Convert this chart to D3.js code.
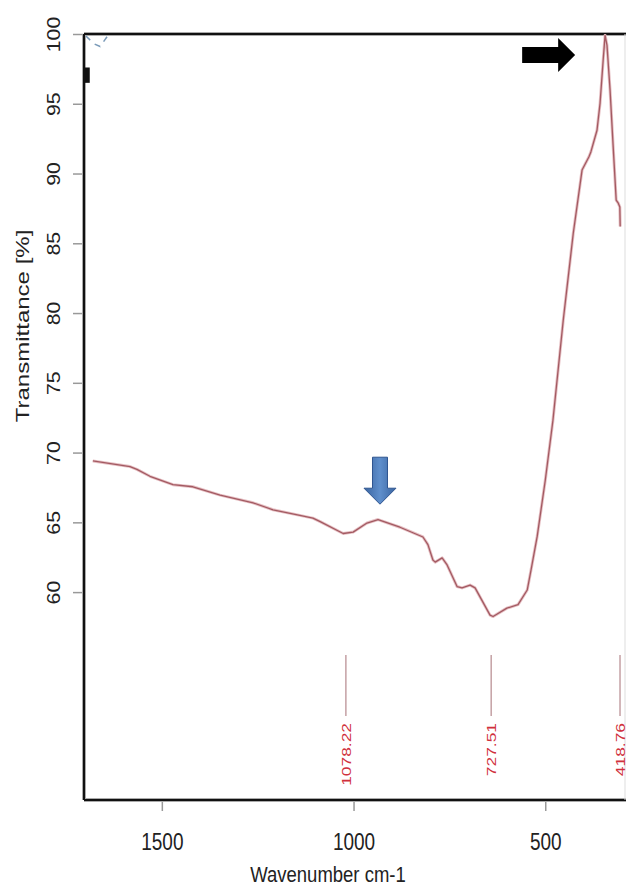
<!DOCTYPE html>
<html>
<head>
<meta charset="utf-8">
<script src="https://cdn.jsdelivr.net/npm/d3@7"></script>
<style>
  body { margin: 0; background: #fff; }
  svg { display: block; font-family: "Liberation Sans", Arial, sans-serif; }
</style>
</head>
<body>
<div id="chart"></div>
<script>
// spectrum (cm-1, %T)
const wavenumber = [1680, 1583, 1565, 1531, 1471, 1419, 1348, 1262, 1210, 1140, 1106, 1087,
    1027, 1001, 965, 936, 879, 819, 806, 793, 787, 769, 756, 730, 717, 696, 683, 644, 636,
    600, 571, 547, 537, 521, 500, 480, 453, 427, 404, 386, 381, 365, 357, 349, 344, 339,
    331, 323, 315, 310, 305.5, 304.5];
const transmittance = [69.4, 69.0, 68.8, 68.3, 67.7, 67.55, 66.95, 66.4, 65.9, 65.5, 65.3, 65.05,
    64.2, 64.3, 64.95, 65.2, 64.65, 63.95, 63.4, 62.3, 62.15, 62.45, 61.95, 60.4, 60.3, 60.5, 60.3, 58.35, 58.25,
    58.85, 59.1, 60.15, 61.6, 64.0, 68.0, 72.3, 79.5, 85.7, 90.25, 91.2, 91.55, 93.1, 95.05, 98.1, 99.9, 99.2,
    96.0, 92.0, 88.1, 87.9, 87.6, 86.2];

// little dashed trace in the top left corner
const dashWavenumber = [1698, 1677, 1661, 1643];
const dashTransmittance = [99.86, 99.3, 99.1, 99.8];

// peak picks: where the marker sits on the axis, and its printed label
const peakPositions = [1020, 641, 305];
const peakLabels = ["1078.22", "727.51", "418.76"];

const xTicks = [1500, 1000, 500];
const yTicks = [60, 65, 70, 75, 80, 85, 90, 95, 100];

const width = 626, height = 888;
const margin = { top: 34, right: 1, bottom: 88, left: 84 };

const svg = d3.select("#chart").append("svg")
    .attr("width", width)
    .attr("height", height);

const x = d3.scaleLinear().domain([1703, 292]).range([margin.left, width - margin.right]);
const y = d3.scaleLinear().domain([45.1, 100]).range([height - margin.bottom, margin.top]);

const bottom = height - margin.bottom;

// axes
const yAxis = svg.append("g")
    .attr("transform", "translate(" + margin.left + ",0)")
    .call(d3.axisLeft(y).tickValues(yTicks).tickSize(11).tickFormat(d => d));
yAxis.select(".domain").remove();
yAxis.selectAll("line").attr("stroke", "#999").attr("stroke-width", 1.5);
yAxis.selectAll("text")
    .attr("x", null).attr("dy", null)
    .attr("text-anchor", "middle")
    .attr("transform", "translate(-24,0) rotate(-90) scale(1.18,1)")
    .attr("fill", "#222")
    .style("font-size", "18px");

const xAxis = svg.append("g")
    .attr("transform", "translate(0," + bottom + ")")
    .call(d3.axisBottom(x).tickValues(xTicks).tickSize(11).tickFormat(d => d));
xAxis.select(".domain").remove();
xAxis.selectAll("line").attr("stroke", "#999").attr("stroke-width", 1.5);
xAxis.selectAll("text")
    .attr("y", null).attr("dy", null)
    .attr("transform", "translate(0,50) scale(1,1.25)")
    .attr("fill", "#222")
    .style("font-size", "19px");

// titles
svg.append("text")
    .attr("transform", "translate(328,882) scale(1,1.2)")
    .attr("text-anchor", "middle")
    .attr("fill", "#222")
    .style("font-size", "18.5px")
    .text("Wavenumber cm-1");

svg.append("text")
    .attr("transform", "translate(29,326) rotate(-90) scale(1.3,1)")
    .attr("text-anchor", "middle")
    .attr("fill", "#222")
    .style("font-size", "18.5px")
    .text("Transmittance [%]");

// frame
const frame = [
    [margin.left, margin.top, width, margin.top],
    [margin.left, margin.top, margin.left, bottom],
    [margin.left, bottom, width, bottom]
];
svg.selectAll("line.halo").data(frame).enter().append("line")
    .attr("class", "halo")
    .attr("x1", d => d[0]).attr("y1", d => d[1]).attr("x2", d => d[2]).attr("y2", d => d[3])
    .attr("stroke", "#aaa").attr("stroke-width", 4);
svg.selectAll("line.frame").data(frame).enter().append("line")
    .attr("class", "frame")
    .attr("x1", d => d[0]).attr("y1", d => d[1]).attr("x2", d => d[2]).attr("y2", d => d[3])
    .attr("stroke", "#111").attr("stroke-width", 2);
svg.append("line")
    .attr("x1", width - 1).attr("x2", width - 1)
    .attr("y1", margin.top).attr("y2", bottom)
    .attr("stroke", "#ddd").attr("stroke-width", 1);

// small legend mark on the left axis
svg.append("rect")
    .attr("x", x(1703)).attr("y", y(97.6))
    .attr("width", x(1688) - x(1703)).attr("height", y(96.5) - y(97.6))
    .attr("fill", "#111");

// dashed trace
svg.append("path")
    .datum(dashWavenumber.map((w, i) => [w, dashTransmittance[i]]))
    .attr("fill", "none")
    .attr("stroke", "#7a9ab8")
    .attr("stroke-width", 1.5)
    .attr("stroke-dasharray", "6,6")
    .attr("d", d3.line().x(d => x(d[0])).y(d => y(d[1])));

// spectrum
const line = d3.line().x(d => x(d[0])).y(d => y(d[1]));
const spectrum = wavenumber.map((w, i) => [w, transmittance[i]]);
svg.append("path")
    .datum(spectrum)
    .attr("fill", "none")
    .attr("stroke", "#e6c0c4")
    .attr("stroke-width", 3)
    .attr("stroke-linejoin", "round")
    .attr("d", line);
svg.append("path")
    .datum(spectrum)
    .attr("fill", "none")
    .attr("stroke", "#a35a62")
    .attr("stroke-width", 1.3)
    .attr("stroke-linejoin", "round")
    .attr("d", line);

// peak markers
const peaks = svg.selectAll("g.peak")
    .data(peakPositions)
    .enter().append("g")
    .attr("class", "peak")
    .attr("transform", d => "translate(" + x(d) + ",0)");
peaks.append("line")
    .attr("y1", 655).attr("y2", 716)
    .attr("stroke", "#c4a0a4")
    .attr("stroke-width", 1.5);
peaks.append("text")
    .attr("transform", "translate(5,723) rotate(-90) scale(1.45,1)")
    .attr("text-anchor", "end")
    .attr("fill", "#d0303c")
    .style("font-size", "12px")
    .text((d, i) => peakLabels[i]);

// arrows
const defs = svg.append("defs");
const grad = defs.append("linearGradient").attr("id", "blueGrad").attr("x1", 0).attr("x2", 1);
grad.append("stop").attr("offset", "0%").attr("stop-color", "#3a64a0");
grad.append("stop").attr("offset", "50%").attr("stop-color", "#5f8fcc");
grad.append("stop").attr("offset", "100%").attr("stop-color", "#3a64a0");

const blueTip = [x(931), y(66.3)];
svg.append("path")
    .attr("transform", "translate(" + blueTip[0] + "," + blueTip[1] + ")")
    .attr("d", "M0,0 L-16,-16 L-7.5,-16 L-7.5,-47 L7.5,-47 L7.5,-16 L16,-16 Z")
    .attr("fill", "url(#blueGrad)")
    .attr("stroke", "#2f5590")
    .attr("stroke-width", 1);

const blackTip = [x(422), y(98.5)];
svg.append("path")
    .attr("transform", "translate(" + blackTip[0] + "," + blackTip[1] + ")")
    .attr("d", "M0,0 L-17,-17 L-17,-8 L-53,-8 L-53,8 L-17,8 L-17,17 Z")
    .attr("fill", "#000");
</script>
</body>
</html>
